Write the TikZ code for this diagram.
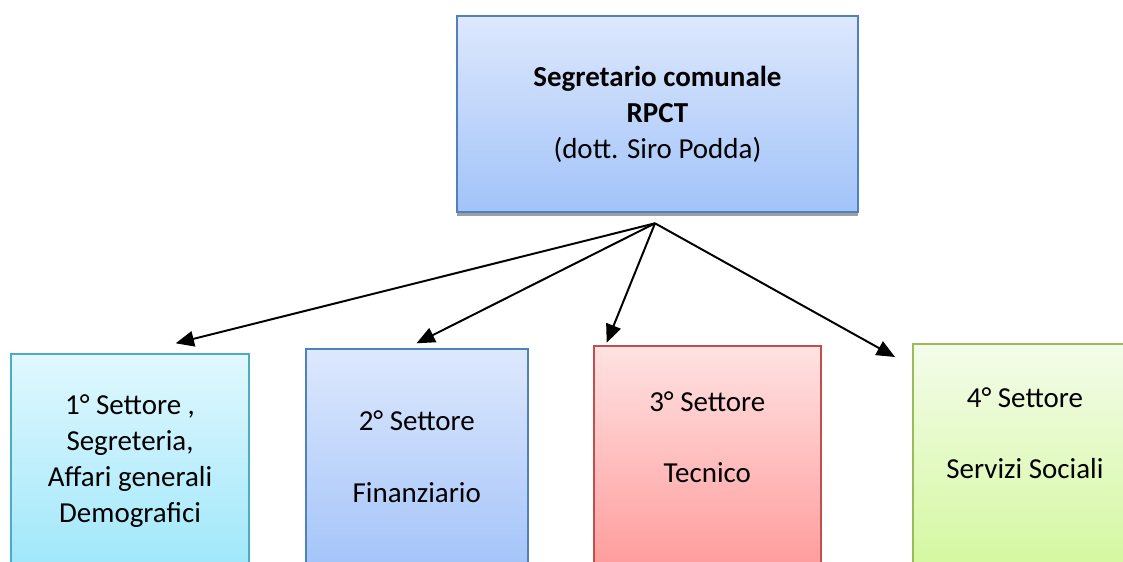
\documentclass[tikz,border=0pt]{standalone}
\usepackage{fontspec}
\setmainfont{Carlito}
\usetikzlibrary{arrows.meta}

\definecolor{bluetop}{RGB}{221,232,253}
\definecolor{bluebot}{RGB}{162,195,249}
\definecolor{blueline}{RGB}{79,129,189}
\definecolor{cyantop}{RGB}{225,248,254}
\definecolor{cyanbot}{RGB}{155,230,250}
\definecolor{cyanline}{RGB}{75,172,198}
\definecolor{redtop}{RGB}{255,226,226}
\definecolor{redbot}{RGB}{255,155,155}
\definecolor{redline}{RGB}{192,80,77}
\definecolor{greentop}{RGB}{244,252,234}
\definecolor{greenbot}{RGB}{212,248,160}
\definecolor{greenline}{RGB}{155,187,89}

\tikzset{
  box/.style={draw, line width=1.4pt, anchor=north west, inner sep=0pt,
    align=center, font=\fontsize{20.6}{25.4}\selectfont},
  arr/.style={line width=1.4pt, -{Triangle[length=13pt,width=11pt]}}
}

\begin{document}
\begin{tikzpicture}[x=0.025cm,y=-0.025cm]
\useasboundingbox (0,0) rectangle (1123,561);
\clip (0,0) rectangle (1123,561);

% segretario
\fill[gray!75] (457,211) rectangle (858,216);
\node[box, blueline, top color=bluetop, bottom color=bluebot, text=black,
  minimum width=10.02cm, text height=3.55cm, text depth=1.34cm]
  (segr) at (456,15) {\textbf{Segretario comunale}\\\textbf{RPCT}\\(dott. Siro Podda)};

% settori
\node[box, cyanline, top color=cyantop, bottom color=cyanbot, text=black,
  minimum width=5.95cm, text height=4.21cm, text depth=1.5cm]
  (set1) at (10,352.7) {1° Settore ,\\Segreteria,\\Affari generali\\Demografici};
\node[box, blueline, top color=bluetop, bottom color=bluebot, text=black,
  minimum width=5.54cm, text height=3.83cm, text depth=1.8cm]
  (set2) at (305,348) {2° Settore\\[25.4pt]Finanziario};
\node[box, redline, top color=redtop, bottom color=redbot, text=black,
  minimum width=5.68cm, text height=3.42cm, text depth=2.2cm]
  (set3) at (592.7,345) {3° Settore\\[25.4pt]Tecnico};
\node[box, greenline, top color=greentop, bottom color=greenbot, text=black,
  minimum width=5.61cm, text height=3.38cm, text depth=2.2cm]
  (set4) at (911.7,342.7) {4° Settore\\[25.4pt]Servizi Sociali};

\coordinate (hub) at (655,223.3);
\coordinate (e1) at (175.7,343.3);
\coordinate (e2) at (416.5,343.3);
\coordinate (e3) at (606.7,342.7);
\coordinate (e4) at (895,357);

\foreach \e in {e1,e2,e3,e4}{
\draw[arr] (hub) -- (\e);
}
\end{tikzpicture}
\end{document}
